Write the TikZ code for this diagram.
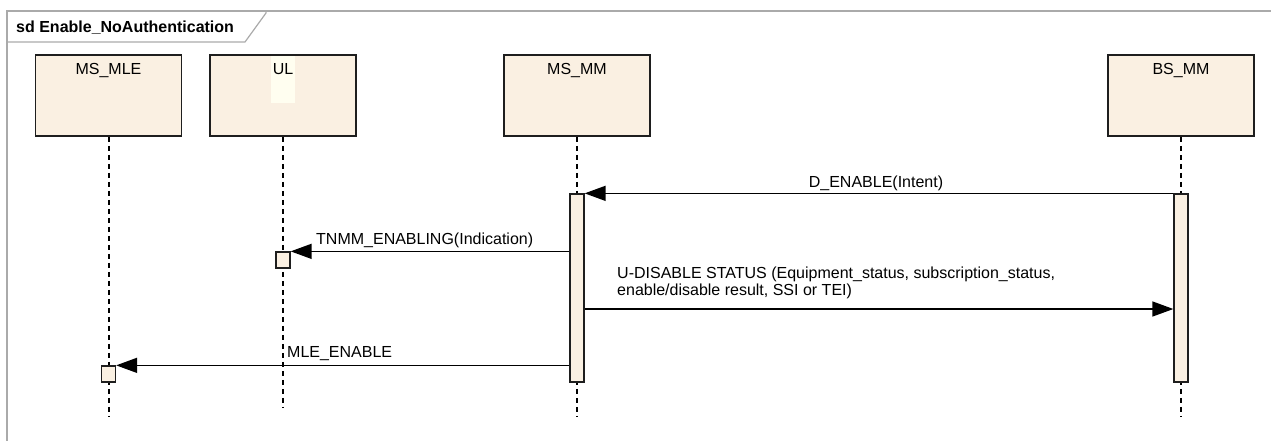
\documentclass[tikz,border=0pt]{standalone}
\usepackage{fontspec}
\setmainfont{Liberation Sans}
\usepackage{tikz}
\usetikzlibrary{arrows.meta, positioning}
\definecolor{sdbeige}{RGB}{250,240,226}
\definecolor{sdivory}{RGB}{255,254,240}
\definecolor{sdframe}{RGB}{170,170,170}
\definecolor{sdline}{RGB}{30,30,30}

\begin{document}
\begin{tikzpicture}[x=1pt, y=-1pt,
  head/.style={draw=sdline, fill=sdbeige, line width=1.6pt,
    minimum width=146pt, minimum height=81pt, inner sep=0pt},
  headtxt/.style={anchor=base, inner sep=0pt, font=\fontsize{16}{17}\selectfont},
  act/.style={draw=sdline, fill=sdbeige, line width=1.3pt,
    minimum width=14pt, inner sep=0pt},
  lifeline/.style={line width=2pt, dash pattern=on 5pt off 4pt},
  msg/.style={-{Triangle[length=21pt, width=15pt]}, line width=1.5pt},
  msgtxt/.style={inner sep=0pt, font=\fontsize{16}{17}\selectfont},
  frame/.style={draw=sdframe, line width=1.2pt}
]
\useasboundingbox (0,0) rectangle (1271,440);
\clip (0,0) rectangle (1271,440);
% Frame
\draw[frame] (7,11) rectangle (1300,470);
\draw[frame] (7,42) -- (245,42) -- (266,13) -- (266,11);
\node[msgtxt, anchor=base west, font=\fontsize{16}{17}\selectfont\bfseries] (title) at (16,32)
  {sd Enable\_NoAuthentication};
% Lifeline heads
\node[head] (mle) at (108.5,95.5) {};
\node[head] (ul) at (283,95.5) {};
\fill[sdivory] (271,56) rectangle (295,103);
\node[head] (msmm) at (577,95.5) {};
\node[head] (bsmm) at (1181,95.5) {};
\node[headtxt] (mleName) at ([yshift=-20pt]mle.north) {MS\_MLE};
\node[headtxt] (ulName) at ([yshift=-20pt]ul.north) {UL};
\node[headtxt] (msmmName) at ([yshift=-20pt]msmm.north) {MS\_MM};
\node[headtxt] (bsmmName) at ([yshift=-20pt]bsmm.north) {BS\_MM};
% Lifelines
\coordinate (mleEnd) at (108.5,417);
\coordinate (ulEnd) at (283,407);
\coordinate (msmmEnd) at (577,417);
\coordinate (bsmmEnd) at (1181,417);
\draw[lifeline] (mle.south) -- (mleEnd);
\draw[lifeline] (ul.south) -- (ulEnd);
\draw[lifeline] (msmm.south) -- (msmmEnd);
\draw[lifeline] (bsmm.south) -- (bsmmEnd);
% Activations
\node[act, minimum height=188pt] (msmmAct) at (577,288) {};
\node[act, minimum height=188pt] (bsmmAct) at (1181,288) {};
\node[act, minimum height=16pt] (ulAct) at (283,260) {};
\node[act, minimum height=16pt] (mleAct) at (108.5,374) {};
% Messages
\draw[msg] (bsmmAct.north west) -- (msmmAct.north east);
\node[msgtxt, anchor=base] (dEnable) at (876,187) {D\_ENABLE(Intent)};
\draw[msg] (msmmAct.west |- ulAct.north) -- (ulAct.north east);
\node[msgtxt, anchor=base west] (tnmm) at (316,244) {TNMM\_ENABLING(Indication)};
\draw[msg] (msmmAct.east |- 0,309) -- (bsmmAct.west |- 0,309);
\node[msgtxt, anchor=north west, align=left] (uDisable) at (617,267)
  {U-DISABLE STATUS (Equipment\_status, subscription\_status,\\
   enable/disable result, SSI or TEI)};
\draw[msg] (msmmAct.west |- mleAct.north) -- (mleAct.north east);
\node[msgtxt, anchor=base west] (mleEnable) at (287,357) {MLE\_ENABLE};
\end{tikzpicture}
\end{document}
